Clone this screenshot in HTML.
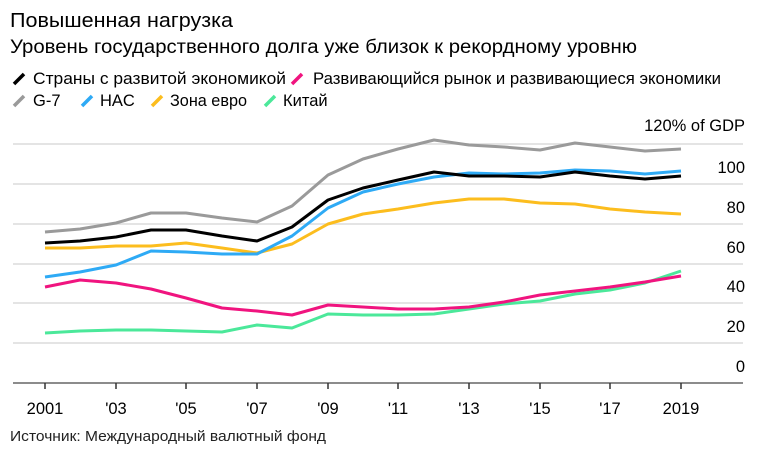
<!DOCTYPE html>
<html><head><meta charset="utf-8"><style>
body{margin:0;background:#fff;width:764px;height:455px;overflow:hidden;font-family:"Liberation Sans",sans-serif}
</style></head><body>
<svg width="764" height="455" xmlns="http://www.w3.org/2000/svg" font-family="Liberation Sans, sans-serif">
<text x="10" y="27" font-size="20" fill="#000" textLength="223" lengthAdjust="spacingAndGlyphs">Повышенная нагрузка</text>
<text x="10" y="53" font-size="19" fill="#000" textLength="627" lengthAdjust="spacingAndGlyphs">Уровень государственного долга уже близок к рекордному уровню</text>
<g font-size="16.5" fill="#000">
<line x1="14" y1="84" x2="24" y2="74" stroke="#000" stroke-width="3.5"/><text x="33" y="84" textLength="253" lengthAdjust="spacingAndGlyphs">Страны с развитой экономикой</text>
<line x1="292" y1="84" x2="302" y2="74" stroke="#f0147f" stroke-width="3.5"/><text x="313" y="84" textLength="408" lengthAdjust="spacingAndGlyphs">Развивающийся рынок и развивающиеся экономики</text>
<line x1="14" y1="106" x2="24" y2="96" stroke="#9a9a9a" stroke-width="3.5"/><text x="33" y="106">G-7</text>
<line x1="82" y1="106" x2="92" y2="96" stroke="#2eaaf5" stroke-width="3.5"/><text x="100" y="106">HAC</text>
<line x1="152" y1="106" x2="162" y2="96" stroke="#fcbd1e" stroke-width="3.5"/><text x="170" y="106" textLength="77" lengthAdjust="spacingAndGlyphs">Зона евро</text>
<line x1="265" y1="106" x2="275" y2="96" stroke="#4be89a" stroke-width="3.5"/><text x="283" y="106">Китай</text>
</g>
<g stroke="#dcdcdc" stroke-width="1.5">
<line x1="13" y1="144" x2="743" y2="144"/><line x1="13" y1="184" x2="743" y2="184"/>
<line x1="13" y1="224" x2="743" y2="224"/><line x1="13" y1="264" x2="743" y2="264"/>
<line x1="13" y1="303" x2="743" y2="303"/><line x1="13" y1="343" x2="743" y2="343"/>
</g>
<line x1="13" y1="383" x2="743" y2="383" stroke="#666" stroke-width="1.5"/>
<g font-size="16.5" fill="#000" text-anchor="end">
<text x="745" y="131">120% of GDP</text><text x="745" y="173">100</text><text x="745" y="213">80</text>
<text x="745" y="253">60</text><text x="745" y="292">40</text><text x="745" y="332">20</text><text x="745" y="372">0</text>
</g>
<g stroke="#333" stroke-width="1.5">
<line x1="45" y1="383" x2="45" y2="389"/><line x1="116" y1="383" x2="116" y2="389"/><line x1="186" y1="383" x2="186" y2="389"/>
<line x1="257" y1="383" x2="257" y2="389"/><line x1="328" y1="383" x2="328" y2="389"/><line x1="398" y1="383" x2="398" y2="389"/>
<line x1="469" y1="383" x2="469" y2="389"/><line x1="540" y1="383" x2="540" y2="389"/><line x1="610" y1="383" x2="610" y2="389"/>
<line x1="681" y1="383" x2="681" y2="389"/>
</g>
<g font-size="16.5" fill="#000" text-anchor="middle">
<text x="45" y="414">2001</text><text x="116" y="414">'03</text><text x="186" y="414">'05</text><text x="257" y="414">'07</text>
<text x="328" y="414">'09</text><text x="398" y="414">'11</text><text x="469" y="414">'13</text><text x="540" y="414">'15</text>
<text x="610" y="414">'17</text><text x="681" y="414">2019</text>
</g>
<text x="10" y="441" font-size="15" fill="#222" textLength="316" lengthAdjust="spacingAndGlyphs">Источник: Международный валютный фонд</text>
<g fill="none" stroke-width="3" stroke-linejoin="round">
<polyline stroke="#4be89a" points="45,333 80,331 116,330 151,330 186,331 222,332 257,325 292,328 328,314 363,315 398,315 434,314 469,309 504,304 540,301 575,294 610,290 645,283 681,271"/>
<polyline stroke="#f0147f" points="45,287 80,280 116,283 151,289 186,298 222,308 257,311 292,315 328,305 363,307 398,309 434,309 469,307 504,302 540,295 575,291 610,287 645,282 681,276"/>
<polyline stroke="#9a9a9a" points="45,232 80,229 116,223 151,213 186,213 222,218 257,222 292,206 328,175 363,159 398,149 434,140 469,145 504,147 540,150 575,143 610,147 645,151 681,149"/>
<polyline stroke="#fcbd1e" points="45,248 80,248 116,246 151,246 186,243 222,248 257,253 292,244 328,224 363,214 398,209 434,203 469,199 504,199 540,203 575,204 610,209 645,212 681,214"/>
<polyline stroke="#2eaaf5" points="45,277 80,272 116,265 151,251 186,252 222,254 257,254 292,236 328,208 363,192 398,184 434,177 469,173 504,174 540,173 575,170 610,171 645,174 681,171"/>
<polyline stroke="#000" points="45,243 80,241 116,237 151,230 186,230 222,236 257,241 292,227 328,200 363,188 398,180 434,172 469,176 504,176 540,177 575,172 610,176 645,179 681,176"/>
</g>
</svg>
</body></html>
